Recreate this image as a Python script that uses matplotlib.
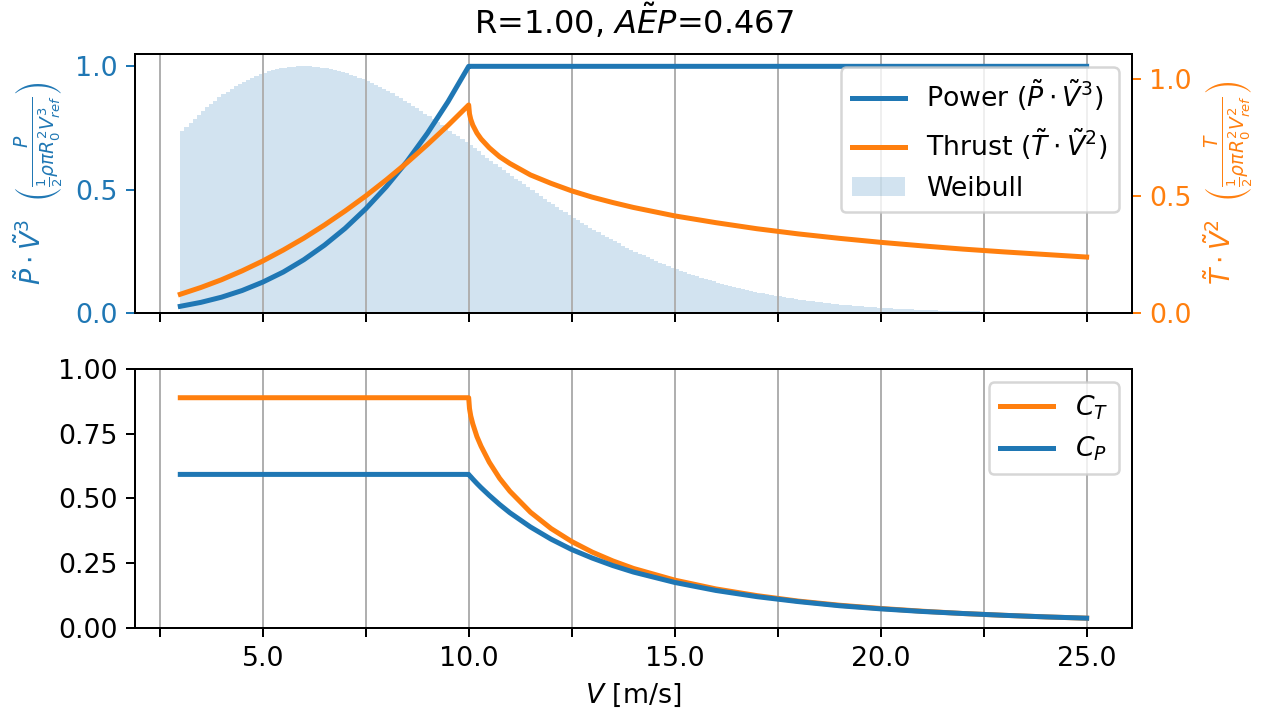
import numpy as np
import matplotlib
matplotlib.use('Agg')
import matplotlib.pyplot as plt
from matplotlib.ticker import MultipleLocator, FuncFormatter

# wind speeds [m/s] at which the curves are drawn
wind = [3.0, 3.5, 4.0, 4.5, 5.0, 5.5, 6.0, 6.5, 7.0, 7.5, 8.0, 8.5, 9.0, 9.5, 10.0,
        10.02, 10.05, 10.1, 10.2, 10.3, 10.5, 10.75, 11.0, 11.5, 12.0, 12.5, 13.0,
        13.5, 14.0, 15.0, 16.0, 17.0, 18.0, 19.0, 20.0, 21.0, 22.0, 23.0, 24.0, 25.0]

power = [0.027, 0.043, 0.064, 0.091, 0.125, 0.166, 0.216, 0.275, 0.343, 0.422,
         0.512, 0.614, 0.729, 0.857, 1.0,
         1.0, 1.0, 1.0, 1.0, 1.0, 1.0, 1.0, 1.0, 1.0, 1.0, 1.0, 1.0,
         1.0, 1.0, 1.0, 1.0, 1.0, 1.0, 1.0, 1.0, 1.0, 1.0, 1.0, 1.0, 1.0]

thrust = [0.080, 0.109, 0.142, 0.180, 0.222, 0.269, 0.320, 0.376, 0.436, 0.500,
          0.569, 0.642, 0.720, 0.802, 0.889,
          0.851, 0.828, 0.803, 0.769, 0.744, 0.706, 0.668, 0.639, 0.590, 0.554,
          0.522, 0.495, 0.472, 0.451, 0.415, 0.386, 0.360, 0.338, 0.319, 0.302,
          0.287, 0.273, 0.261, 0.250, 0.239]

ct = [0.889, 0.889, 0.889, 0.889, 0.889, 0.889, 0.889, 0.889, 0.889, 0.889,
      0.889, 0.889, 0.889, 0.889, 0.889,
      0.847, 0.819, 0.788, 0.739, 0.702, 0.640, 0.578, 0.528, 0.447, 0.384,
      0.334, 0.293, 0.259, 0.230, 0.185, 0.151, 0.125, 0.104, 0.088, 0.0755,
      0.065, 0.056, 0.049, 0.043, 0.038]

cp = [0.593, 0.593, 0.593, 0.593, 0.593, 0.593, 0.593, 0.593, 0.593, 0.593,
      0.593, 0.593, 0.593, 0.593, 0.593,
      0.589, 0.584, 0.575, 0.558, 0.542, 0.512, 0.477, 0.445, 0.390, 0.343,
      0.303, 0.270, 0.241, 0.216, 0.176, 0.145, 0.121, 0.102, 0.086, 0.074,
      0.064, 0.056, 0.049, 0.043, 0.038]

# weibull histogram, 0.1 m/s bins from 3.0 to 25.0 (normalised to peak)
weibull = [
    0.7365, 0.7541, 0.7712, 0.7877, 0.8036, 0.8189, 0.8335, 0.8476, 0.8611, 0.8739,
    0.8862, 0.8978, 0.9087, 0.9191, 0.9288, 0.9378, 0.9463, 0.9541, 0.9613, 0.9678,
    0.9738, 0.9791, 0.9838, 0.9879, 0.9914, 0.9942, 0.9965, 0.9982, 0.9994, 0.9999,
    0.9999, 0.9994, 0.9983, 0.9967, 0.9945, 0.9919, 0.9887, 0.9851, 0.9810, 0.9764,
    0.9714, 0.9659, 0.9600, 0.9537, 0.9470, 0.9400, 0.9325, 0.9247, 0.9166, 0.9081,
    0.8993, 0.8902, 0.8809, 0.8712, 0.8613, 0.8512, 0.8408, 0.8302, 0.8194, 0.8085,
    0.7973, 0.7860, 0.7745, 0.7629, 0.7512, 0.7394, 0.7275, 0.7155, 0.7034, 0.6913,
    0.6791, 0.6669, 0.6547, 0.6424, 0.6302, 0.6179, 0.6057, 0.5935, 0.5813, 0.5691,
    0.5571, 0.5450, 0.5331, 0.5212, 0.5094, 0.4977, 0.4861, 0.4746, 0.4632, 0.4519,
    0.4407, 0.4297, 0.4188, 0.4080, 0.3974, 0.3869, 0.3766, 0.3664, 0.3564, 0.3465,
    0.3368, 0.3273, 0.3179, 0.3087, 0.2996, 0.2907, 0.2820, 0.2735, 0.2651, 0.2569,
    0.2489, 0.2410, 0.2333, 0.2258, 0.2185, 0.2113, 0.2043, 0.1975, 0.1908, 0.1843,
    0.1780, 0.1718, 0.1658, 0.1599, 0.1542, 0.1487, 0.1433, 0.1381, 0.1330, 0.1281,
    0.1232, 0.1186, 0.1141, 0.1097, 0.1055, 0.1014, 0.0974, 0.0935, 0.0898, 0.0862,
    0.0826, 0.0793, 0.0760, 0.0729, 0.0699, 0.0669, 0.0641, 0.0614, 0.0587, 0.0562,
    0.0537, 0.0514, 0.0491, 0.0469, 0.0449, 0.0429, 0.0409, 0.0391, 0.0373, 0.0356,
    0.0339, 0.0323, 0.0308, 0.0293, 0.0279, 0.0266, 0.0253, 0.0241, 0.0229, 0.0218,
    0.0207, 0.0197, 0.0187, 0.0178, 0.0169, 0.0160, 0.0152, 0.0144, 0.0137, 0.0130,
    0.0123, 0.0116, 0.0110, 0.0104, 0.0099, 0.0094, 0.0089, 0.0084, 0.0079, 0.0075,
    0.0071, 0.0067, 0.0063, 0.0060, 0.0056, 0.0053, 0.0050, 0.0047, 0.0045, 0.0042,
    0.0039, 0.0037, 0.0035, 0.0033, 0.0031, 0.0029, 0.0027, 0.0026, 0.0024, 0.0023,
    0.0021, 0.0020, 0.0019, 0.0018, 0.0017, 0.0016, 0.0015, 0.0014, 0.0013, 0.0012]
bin_edges = np.round(3.0 + 0.1 * np.arange(len(weibull) + 1), 2)

c_pow = 'tab:blue'
c_thr = 'tab:orange'

plt.rcParams['font.size'] = 10.7

fig = plt.figure(figsize=(1271 / 180, 717 / 180), dpi=180)
ax1 = fig.add_axes([0.1062, 0.5635, 0.7844, 0.3612])
ax3 = fig.add_axes([0.1062, 0.1241, 0.7844, 0.3613], sharex=ax1)
ax2 = ax1.twinx()

# top: power, thrust and weibull
ax1.stairs(weibull, bin_edges, fill=True, color=c_pow, alpha=0.2, label='Weibull')
l_pow, = ax1.plot(wind, power, color=c_pow, lw=2, label=r'Power ($\tilde{P}\cdot\tilde{V}^3$)')
l_thr, = ax2.plot(wind, thrust, color=c_thr, lw=2, label=r'Thrust ($\tilde{T}\cdot\tilde{V}^2$)')
ax1.set_ylim(0, 1.05)
ax2.set_ylim(0, 1.107)
ax1.set_yticks([0.0, 0.5, 1.0])
ax2.set_yticks([0.0, 0.5, 1.0])
ax1.tick_params(axis='y', colors=c_pow)
ax2.tick_params(axis='y', colors=c_thr)
ax1.set_ylabel(r'$\tilde{P}\cdot\tilde{V}^3$  $\left(\frac{P}{\frac{1}{2}\rho\pi R_0^2V_{ref}^3}\right)$',
               color=c_pow)
ax2.set_ylabel(r'$\tilde{T}\cdot\tilde{V}^2$  $\left(\frac{T}{\frac{1}{2}\rho\pi R_0^2V_{ref}^2}\right)$',
               color=c_thr)
ax1.spines['left'].set_color('black')
ax2.spines['right'].set_color('black')
ax1.grid(axis='x')
h_w = ax1.patches[0]
ax2.legend([l_pow, l_thr, h_w], [l_pow.get_label(), l_thr.get_label(), 'Weibull'], loc='upper right')
ax1.set_title(r'R=1.00, $A\tilde{E}P$=0.467', fontsize=12.8, pad=8)
plt.setp(ax1.get_xticklabels(), visible=False)

# bottom: coefficients
ax3.plot(wind, ct, color=c_thr, lw=2, label='$C_T$')
ax3.plot(wind, cp, color=c_pow, lw=2, label='$C_P$')
ax3.set_ylim(0, 1.0)
ax3.set_yticks([0.0, 0.25, 0.5, 0.75, 1.0])
ax3.yaxis.set_major_formatter(FuncFormatter(lambda v, p: '%.2f' % v))
ax3.grid(axis='x')
ax3.legend(loc='upper right')
ax3.set_xlabel('$V$ [m/s]')

ax3.xaxis.set_major_locator(MultipleLocator(2.5))
ax3.xaxis.set_major_formatter(FuncFormatter(lambda v, p: '%.1f' % v if abs(v % 5) < 1e-6 else ''))
ax3.set_xlim(1.9, 26.1)

fig.savefig('out.png', dpi=180)
